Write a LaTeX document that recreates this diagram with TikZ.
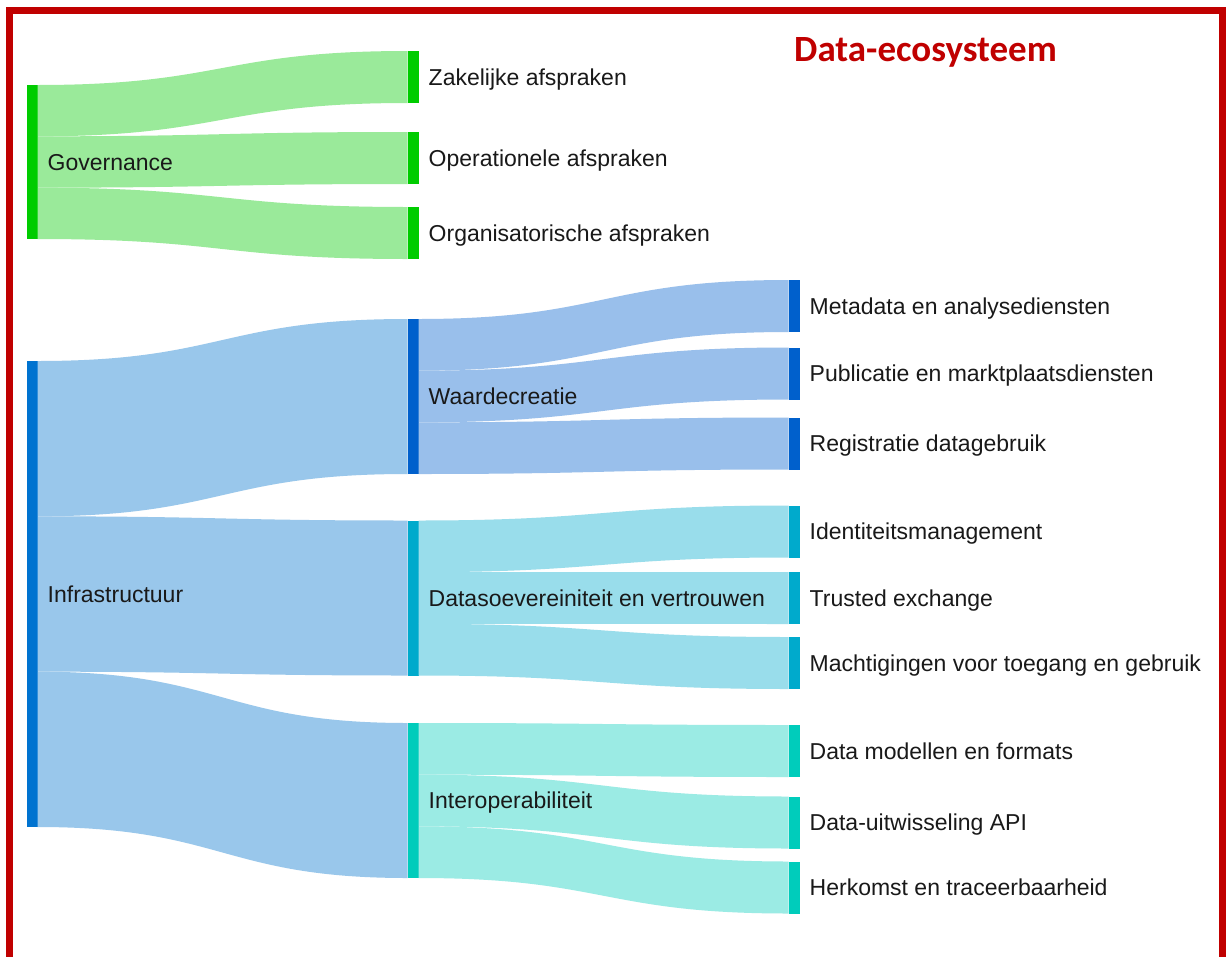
\documentclass[tikz,border=0pt]{standalone}
\usepackage{fontspec}
\setmainfont{Liberation Sans}
\newfontfamily\titlefont{Carlito}
\usetikzlibrary{positioning, calc}
\definecolor{govbar}{RGB}{0,204,0}
\definecolor{govflow}{RGB}{154,234,154}
\definecolor{infbar}{RGB}{0,115,208}
\definecolor{infflow}{RGB}{153,199,235}
\definecolor{waabar}{RGB}{0,96,204}
\definecolor{waaflow}{RGB}{153,191,235}
\definecolor{dsvbar}{RGB}{0,170,204}
\definecolor{dsvflow}{RGB}{153,221,235}
\definecolor{intbar}{RGB}{0,204,187}
\definecolor{intflow}{RGB}{155,235,228}
\definecolor{framered}{RGB}{192,0,0}
\tikzset{
  bar/.style={rectangle, fill=#1, inner sep=0pt, outer sep=0pt, minimum width=11pt},
  lbl/.style={anchor=west, inner sep=0pt, text=black!90, font=\fontsize{23}{28}\selectfont, text height=16.5pt, text depth=0pt},
  title/.style={inner sep=0pt, text=framered, font=\titlefont\bfseries\fontsize{37}{44}\selectfont},
  frame/.style={draw=framered, line width=7pt}
}
\newcommand{\linkband}[5]{%
  \fill[#5] ($(#1.north east)!#2!(#1.south east)$)
    .. controls +(185,0) and +(-185,0) .. (#4.north west)
    -- (#4.south west)
    .. controls +(-185,0) and +(185,0) .. ($(#1.north east)!#3!(#1.south east)$)
    -- cycle;}

\begin{document}
\begin{tikzpicture}[x=1pt, y=-1pt]
    \useasboundingbox (0,0) rectangle (1226,956);
    \clip (0,0) rectangle (1226,956);
    \fill[white] (0,0) rectangle (1226,956);

    \node[bar=govbar, minimum height=154pt] (gov) at (32,162) {};
    \node[bar=govbar, minimum height=52pt] (zak) at (413,77) {};
    \node[bar=govbar, minimum height=52pt] (ope) at (413,158) {};
    \node[bar=govbar, minimum height=52pt] (org) at (413,233) {};

    \node[bar=infbar, minimum height=466pt] (inf) at (32,594) {};
    \node[bar=waabar, minimum height=155pt] (waa) at (413,396.5) {};
    \node[bar=dsvbar, minimum height=155pt] (dsv) at (413,598) {};
    \node[bar=intbar, minimum height=155pt] (int) at (413,800.5) {};

    \node[bar=waabar, minimum height=52pt] (meta) at (794,306) {};
    \node[bar=waabar, minimum height=52pt] (pub) at (794,373.5) {};
    \node[bar=waabar, minimum height=52pt] (reg) at (794,443.5) {};
    \node[bar=dsvbar, minimum height=52pt] (ide) at (794,531.5) {};
    \node[bar=dsvbar, minimum height=52pt] (tru) at (794,598) {};
    \node[bar=dsvbar, minimum height=52pt] (mac) at (794,663) {};
    \node[bar=intbar, minimum height=52pt] (dmf) at (794,751) {};
    \node[bar=intbar, minimum height=52pt] (api) at (794,822.5) {};
    \node[bar=intbar, minimum height=52pt] (her) at (794,887.5) {};

    \linkband{gov}{0}{1/3}{zak}{govflow}
    \linkband{gov}{1/3}{2/3}{ope}{govflow}
    \linkband{gov}{2/3}{1}{org}{govflow}

    \linkband{inf}{0}{1/3}{waa}{infflow}
    \linkband{inf}{1/3}{2/3}{dsv}{infflow}
    \linkband{inf}{2/3}{1}{int}{infflow}

    \linkband{waa}{0}{1/3}{meta}{waaflow}
    \linkband{waa}{1/3}{2/3}{pub}{waaflow}
    \linkband{waa}{2/3}{1}{reg}{waaflow}
    \linkband{dsv}{0}{1/3}{ide}{dsvflow}
    \linkband{dsv}{1/3}{2/3}{tru}{dsvflow}
    \linkband{dsv}{2/3}{1}{mac}{dsvflow}
    \linkband{int}{0}{1/3}{dmf}{intflow}
    \linkband{int}{1/3}{2/3}{api}{intflow}
    \linkband{int}{2/3}{1}{her}{intflow}

    \node[lbl, right=10pt of gov] (govtxt) {Governance};
    \node[lbl, right=10pt of zak] (zaktxt) {Zakelijke afspraken};
    \node[lbl, right=10pt of ope] (opetxt) {Operationele afspraken};
    \node[lbl, right=10pt of org] (orgtxt) {Organisatorische afspraken};
    \node[lbl, right=10pt of inf] (inftxt) {Infrastructuur};
    \node[lbl, right=10pt of waa] (waatxt) {Waardecreatie};
    \node[lbl, right=10pt of dsv] (dsvtxt) {Datasoevereiniteit en vertrouwen};
    \node[lbl, right=10pt of int] (inttxt) {Interoperabiliteit};
    \node[lbl, right=10pt of meta] (metatxt) {Metadata en analysediensten};
    \node[lbl, right=10pt of pub] (pubtxt) {Publicatie en marktplaatsdiensten};
    \node[lbl, right=10pt of reg] (regtxt) {Registratie datagebruik};
    \node[lbl, right=10pt of ide] (idetxt) {Identiteitsmanagement};
    \node[lbl, right=10pt of tru] (trutxt) {Trusted exchange};
    \node[lbl, right=10pt of mac] (mactxt) {Machtigingen voor toegang en gebruik};
    \node[lbl, right=10pt of dmf] (dmftxt) {Data modellen en formats};
    \node[lbl, right=10pt of api] (apitxt) {Data-uitwisseling API};
    \node[lbl, right=10pt of her] (hertxt) {Herkomst en traceerbaarheid};

    \node[title, anchor=base west] (ttl) at (794,61) {Data-ecosysteem};
    \draw[frame] (9,970) |- (1222,10.5) -- (1222,970);

\end{tikzpicture}
\end{document}
